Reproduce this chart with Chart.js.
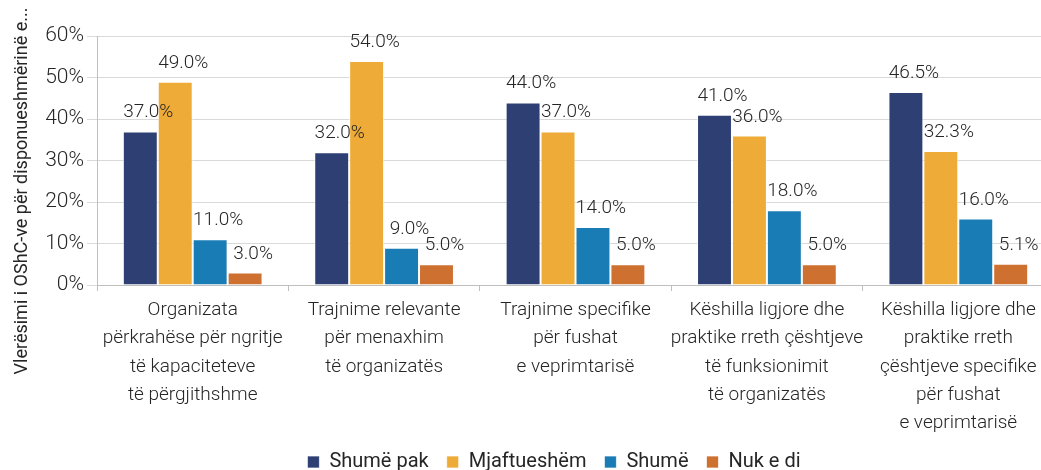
<!DOCTYPE html>
<html>
<head>
<meta charset="utf-8">
<script src="https://cdn.jsdelivr.net/npm/chart.js@4/dist/chart.umd.min.js"></script>
<style>
  html, body { margin: 0; padding: 0; background: #fff; overflow: hidden; }
  #wrap { width: 1041px; height: 470px; overflow: hidden; }
</style>
</head>
<body>
<div id="wrap"><canvas id="chart" width="1112" height="482"></canvas></div>
<script>
const categories = [
  ["Organizata", "përkrahëse për ngritje", "të kapaciteteve", "të përgjithshme"],
  ["Trajnime relevante", "për menaxhim", "të organizatës"],
  ["Trajnime specifike", "për fushat", "e veprimtarisë"],
  ["Këshilla ligjore dhe", "praktike rreth çështjeve", "të funksionimit", "të organizatës"],
  ["Këshilla ligjore dhe", "praktike rreth", "çështjeve specifike", "për fushat", "e veprimtarisë"],
];
const seriesNames = ["Shumë pak", "Mjaftueshëm", "Shumë", "Nuk e di"];
const shumePak = [37.0, 32.0, 44.0, 41.0, 46.5];
const mjaftueshem = [49.0, 54.0, 37.0, 36.0, 32.3];
const shume = [11.0, 9.0, 14.0, 18.0, 16.0];
const nukEDi = [3.0, 5.0, 5.0, 5.0, 5.1];
const yMin = 0;
const yMax = 60;
const yStep = 10;
const yTitle = "Vlerësimi i OShC-ve për disponueshmërinë e...";

const colors = ["#2e3f73", "#eeab37", "#1a7cb4", "#ce7030"];
const textColor = "#262626";
const FONT = "Roboto";

const barLabels = {
  id: "barLabels",
  afterDatasetsDraw(chart) {
    const ctx = chart.ctx;
    ctx.save();
    ctx.font = `300 19px ${FONT}`;
    ctx.fillStyle = textColor;
    ctx.textAlign = "center";
    ctx.textBaseline = "alphabetic";
    chart.data.datasets.forEach((ds, i) => {
      chart.getDatasetMeta(i).data.forEach((bar, j) => {
        ctx.fillText(ds.data[j].toFixed(1) + "%", bar.x + 8, bar.y - 14);
      });
    });
    ctx.restore();
  },
};

const axisTitle = {
  id: "axisTitle",
  afterDraw(chart) {
    const ctx = chart.ctx;
    ctx.save();
    ctx.translate(22, 191);
    ctx.rotate(-Math.PI / 2);
    ctx.font = `400 18px ${FONT}`;
    ctx.fillStyle = textColor;
    ctx.textAlign = "center";
    ctx.textBaseline = "middle";
    ctx.fillText(yTitle, 0, 0);
    ctx.restore();
  },
};

// nudge the legend a little to the right, like the original
const legendShift = {
  id: "legendShift",
  afterUpdate(chart) {
    chart.legend.left += 5;
    chart.legend.right += 5;
    chart.legend.adjustHitBoxes();
  },
};

const datasets = [shumePak, mjaftueshem, shume, nukEDi].map((values, i) => ({
  label: seriesNames[i],
  data: values,
  backgroundColor: colors[i],
  borderColor: "rgba(255,255,255,0.7)",
  borderWidth: 1,
  barPercentage: 1,
  categoryPercentage: 0.73,
}));

new Chart(document.getElementById("chart"), {
  type: "bar",
  data: { labels: categories, datasets },
  plugins: [barLabels, axisTitle, legendShift],
  options: {
    responsive: false,
    animation: false,
    devicePixelRatio: 1,
    layout: { padding: { left: 44, right: 58, top: 36, bottom: 0 } },
    plugins: {
      tooltip: { enabled: false },
      legend: {
        position: "bottom",
        labels: {
          boxWidth: 12,
          boxHeight: 12,
          padding: 18,
          color: textColor,
          font: { family: FONT, size: 20, weight: "400" },
        },
      },
    },
    scales: {
      x: {
        grid: { drawOnChartArea: false, offset: true, tickLength: 6, color: "#bfbfbf" },
        border: { color: "#bfbfbf" },
        ticks: {
          color: textColor,
          maxRotation: 0,
          autoSkip: false,
          padding: 5,
          font: { family: FONT, size: 19, weight: "300", lineHeight: 1.49 },
        },
        afterFit(scale) { scale.height = 149; },
      },
      y: {
        min: yMin,
        max: yMax,
        grid: { color: "#d9d9d9", tickLength: 10 },
        border: { color: "#bfbfbf" },
        ticks: {
          stepSize: yStep,
          color: textColor,
          padding: 3,
          callback: (v) => v + "%",
          font: { family: FONT, size: 21, weight: "300" },
        },
        afterFit(scale) { scale.width = 53; },
      },
    },
  },
});
</script>
</body>
</html>
